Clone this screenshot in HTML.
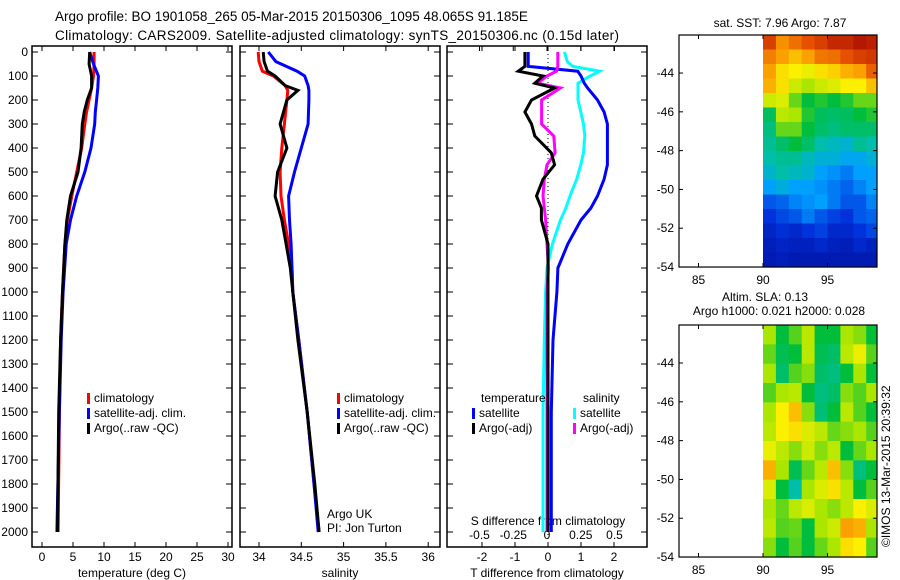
<!DOCTYPE html>
<html><head><meta charset="utf-8"><style>
body{margin:0;background:#fff}
svg{display:block;font-family:"Liberation Sans",sans-serif;font-size:12px}
</style></head><body>
<svg id="c" width="900" height="580" xmlns="http://www.w3.org/2000/svg">
<text x="55" y="21" font-size="13.5">Argo profile: BO 1901058_265 05-Mar-2015 20150306_1095 48.065S 91.185E</text>
<text x="55" y="40" font-size="13.5" textLength="564" lengthAdjust="spacing">Climatology: CARS2009. Satellite-adjusted climatology: synTS_20150306.nc (0.15d later)</text>
<g id="g"></g>
</svg>
<script>
// depth levels (m)
const depthT=[0,50,100,150,200,250,300,400,500,600,700,800,1000,1200,1500,2000];
const tempClim=[8.4,8.4,8.3,8.0,7.6,7.2,6.9,6.4,5.6,4.8,4.1,3.7,3.3,3.0,2.8,2.6];
const tempSat=[7.7,8.3,9.1,9.0,8.8,8.6,8.5,7.9,6.9,5.6,4.6,3.9,3.4,3.1,2.8,2.4];
const tempArgo=[7.7,7.6,8.0,8.0,7.3,6.8,6.5,6.3,5.8,4.6,4.0,3.7,3.3,3.0,2.7,2.5];
const depthS=[0,40,80,100,140,160,200,300,400,500,600,700,800,900,1000,1200,1500,1800,2000];
const salClim=[33.99,34.0,34.04,34.17,34.31,34.34,34.33,34.3,34.27,34.25,34.26,34.3,34.35,34.39,34.4,34.47,34.57,34.65,34.71];
const salSat=[34.11,34.2,34.45,34.54,34.58,34.59,34.59,34.58,34.5,34.42,34.35,34.36,34.38,34.39,34.4,34.47,34.57,34.65,34.7];
const salArgo=[34.05,34.06,34.1,34.19,34.31,34.46,34.33,34.25,34.33,34.22,34.19,34.27,34.32,34.37,34.4,34.46,34.57,34.66,34.71];
const depthD=[0,40,60,80,100,130,150,200,250,300,350,420,470,530,600,650,700,800,900,1000,1200,1500,2000];
const tDiffSat=[-0.6,-0.6,-0.6,0.9,1.0,1.1,1.2,1.5,1.7,1.8,1.8,1.8,1.8,1.7,1.5,1.3,1.0,0.6,0.3,0.27,0.15,0.1,0.1];
const tDiffArgo=[-0.7,-0.7,-0.7,-0.9,-0.15,-0.4,0.2,-0.5,-0.7,-0.5,-0.4,0.1,0.2,-0.15,-0.35,-0.2,-0.2,0,0,0,0,0,0];
const sDiffSat=[0.13,0.15,0.19,0.39,0.32,0.23,0.23,0.23,0.25,0.27,0.28,0.27,0.25,0.22,0.17,0.14,0.1,0.04,0.0,-0.01,-0.02,-0.03,-0.03];
const sDiffArgo=[0.08,0.08,0.08,0.07,0.0,-0.07,0.1,-0.04,-0.04,-0.04,0.05,0.06,0.0,-0.02,-0.03,-0.02,-0.01,0.0,0.01,0.0,0.0,0.0,0.0];
const depthTicks=[0,100,200,300,400,500,600,700,800,900,1000,1100,1200,1300,1400,1500,1600,1700,1800,1900,2000];
const tempTicks=[0,5,10,15,20,25,30];
const salTicks=[34,34.5,35,35.5,36];
const tdTicks=[-2,-1,0,1,2];
const sdTicks=[-0.5,-0.25,0,0.25,0.5];
const sdTickLabels=["-0.5","-0.25","0","0.25","0.5"];
const lonTicks=[85,90,95];
const latTicks=[-44,-46,-48,-50,-52,-54];
// satellite SST map values (rows top->bottom, cols 90..99E), normalised 0..1
const sstGrid=[
[.92,.82,.86,.9,.92,.95,.95,.97,.96],
[.84,.8,.76,.8,.85,.86,.9,.92,.93],
[.8,.72,.7,.68,.72,.74,.78,.8,.88],
[.78,.72,.64,.6,.64,.66,.7,.7,.76],
[.64,.66,.56,.5,.52,.5,.52,.56,.56],
[.47,.62,.6,.52,.47,.46,.47,.5,.52],
[.44,.56,.56,.5,.46,.44,.46,.46,.46],
[.42,.46,.5,.46,.4,.38,.36,.42,.4],
[.4,.42,.42,.38,.35,.35,.32,.32,.35],
[.36,.4,.38,.36,.3,.28,.25,.3,.3],
[.3,.34,.3,.3,.28,.25,.22,.26,.3],
[.2,.22,.26,.28,.3,.25,.2,.2,.26],
[.15,.18,.2,.25,.2,.17,.15,.2,.22],
[.11,.14,.12,.15,.17,.12,.12,.15,.18],
[.09,.11,.1,.1,.12,.1,.09,.12,.1],
[.08,.09,.08,.08,.08,.08,.08,.08,.08]];
// altimetry SLA map values
const slaGrid=[
[.6,.5,.55,.62,.5,.5,.6,.58,.5],
[.56,.48,.5,.62,.48,.46,.62,.68,.55],
[.6,.46,.55,.58,.46,.44,.5,.6,.5],
[.55,.6,.62,.5,.44,.46,.58,.55,.6],
[.6,.7,.76,.58,.45,.5,.62,.55,.5],
[.62,.7,.72,.66,.62,.56,.58,.6,.55],
[.68,.62,.58,.64,.58,.62,.5,.56,.6],
[.78,.6,.48,.56,.62,.76,.58,.44,.5],
[.66,.5,.4,.6,.66,.72,.62,.5,.55],
[.6,.56,.62,.66,.6,.58,.62,.7,.66],
[.62,.55,.56,.5,.6,.64,.8,.78,.6],
[.58,.5,.55,.5,.56,.6,.72,.7,.55]];
const NS='http://www.w3.org/2000/svg';
const G=document.getElementById('g');
function mk(tag,at,parent){const e=document.createElementNS(NS,tag);for(const k in at)e.setAttribute(k,at[k]);(parent||G).appendChild(e);return e;}
function txt(x,y,s,anchor,parent){const t=mk('text',{x:x,y:y,'text-anchor':anchor||'start'},parent);t.textContent=s;return t;}
const yD=d=>52+d*0.24;
const PT=46,PB=547;
const panels=[{x0:32,x1:232},{x0:240,x1:440},{x0:447,x1:647}];
panels.forEach((p,i)=>{const r=mk('rect',{x:p.x0,y:PT,width:p.x1-p.x0,height:PB-PT,fill:'none',stroke:'#000','stroke-width':1.5});

});
depthTicks.forEach(d=>{const y=yD(d);mk('line',{x1:32,x2:38,y1:y,y2:y,stroke:'#000'});mk('line',{x1:226,x2:232,y1:y,y2:y,stroke:'#000'});
mk('line',{x1:240,x2:246,y1:y,y2:y,stroke:'#000'});mk('line',{x1:434,x2:440,y1:y,y2:y,stroke:'#000'});
mk('line',{x1:447,x2:453,y1:y,y2:y,stroke:'#000'});mk('line',{x1:641,x2:647,y1:y,y2:y,stroke:'#000'});
const t=txt(28,y+4,String(d),'end');});
const xT=v=>42+v*6.2, xS=v=>259+(v-34)*84.6, xTd=v=>548+v*33, xSd=v=>547+v*135;
function xaxis(ticks,f,labels,ly,top){ticks.forEach((v,i)=>{const x=f(v);mk('line',{x1:x,x2:x,y1:PB,y2:PB-5,stroke:'#000'});if(top)mk('line',{x1:x,x2:x,y1:PT,y2:PT+5,stroke:'#000'});
const t=txt(x,ly,labels?labels[i]:String(v),'middle');});}
xaxis(tempTicks,xT,null,561,true);xaxis(salTicks,xS,null,561,true);xaxis(tdTicks,xTd,null,561,true);
sdTicks.forEach((v,i)=>{const x=xSd(v);mk('line',{x1:x,x2:x,y1:PT,y2:PT+5,stroke:'#000'});const t=txt(x,539,sdTickLabels[i],'middle');
});
let t;
t=txt(132,577,'temperature (deg C)','middle');
t=txt(340,577,'salinity','middle');
t=txt(547,577,'T difference from climatology','middle');
t=txt(548,525,'S difference from climatology','middle');
mk('line',{x1:548,x2:548,y1:PT,y2:PB,stroke:'#000','stroke-dasharray':'1,3'});
function line(depths,vals,f,col,name){const pts=depths.map((d,i)=>f(vals[i]).toFixed(1)+','+yD(d).toFixed(1)).join(' ');
const p=mk('polyline',{points:pts,fill:'none',stroke:col,'stroke-width':3,'stroke-linejoin':'miter'});
}
line(depthT,tempClim,xT,'#ff0000','temp-climatology-line');
line(depthT,tempSat,xT,'#0000ff','temp-satellite-line');
line(depthT,tempArgo,xT,'#000000','temp-argo-line');
line(depthS,salClim,xS,'#ff0000','sal-climatology-line');
line(depthS,salSat,xS,'#0000ff','sal-satellite-line');
line(depthS,salArgo,xS,'#000000','sal-argo-line');
line(depthD,sDiffSat,xSd,'#00ffff','s-diff-satellite-line');
line(depthD,tDiffSat,xTd,'#0000ff','t-diff-satellite-line');
line(depthD,sDiffArgo,xSd,'#ff00ff','s-diff-argo-line');
line(depthD,tDiffArgo,xTd,'#000000','t-diff-argo-line');
function leg(x,y,col,s,name){const r=mk('rect',{x:x,y:y-9,width:3,height:11,fill:col});
const tt=txt(x+7,y,s);}
[[87,'#ff0000','climatology'],[87,'#0000ff','satellite-adj. clim.'],[87,'#000','Argo(..raw -QC)']].forEach((e,i)=>leg(e[0],402+i*15,e[1],e[2],'legend-entry-temp'));
[[337,'#ff0000','climatology'],[337,'#0000ff','satellite-adj. clim.'],[337,'#000','Argo(..raw -QC)']].forEach((e,i)=>leg(e[0],402+i*15,e[1],e[2],'legend-entry-sal'));
t=txt(481,402,'temperature');
t=txt(583,402,'salinity');
leg(472,417,'#0000ff','satellite','legend-entry-t-sat');leg(472,432,'#000','Argo(-adj)','legend-entry-t-argo');
leg(573,417,'#00ffff','satellite','legend-entry-s-sat');leg(573,432,'#ff00ff','Argo(-adj)','legend-entry-s-argo');
t=txt(327,518,'Argo UK');
t=txt(327,532,'PI: Jon Turton');
const stops=[[0,[0,0,130]],[.15,[0,50,220]],[.3,[0,160,255]],[.4,[0,190,170]],[.5,[0,190,60]],[.6,[170,230,0]],[.7,[250,240,0]],[.8,[250,160,0]],[.9,[230,80,0]],[1,[160,0,0]]];
function cmap(v){for(let i=1;i<stops.length;i++){if(v<=stops[i][0]){const a=stops[i-1],b=stops[i],f=(v-a[0])/(b[0]-a[0]);
return 'rgb('+a[1].map((c,k)=>Math.round(c+(b[1][k]-c)*f)).join(',')+')';}}return 'rgb(160,0,0)';}
const xLon=l=>763+(l-90)*12.9;
function map(top,grid,name,latTop){const yLat=la=>top+(latTop-la)*19.4;const latBot=-54;
const nr=grid.length,dl=(latTop-latBot)/nr;
grid.forEach((row,i)=>row.forEach((v,j)=>{const x0=xLon(90+j),x1=Math.min(xLon(91+j),877),y0=yLat(latTop-i*dl),y1=yLat(latTop-(i+1)*dl);
const c=mk('rect',{x:x0,y:y0,width:x1-x0+0.5,height:y1-y0+0.5,fill:cmap(v)});}));
const r=mk('rect',{x:679,y:top,width:198,height:yLat(-54)-top,fill:'none',stroke:'#000','stroke-width':1.2});
const bot=yLat(-54);
lonTicks.forEach(l=>{const x=xLon(l);mk('line',{x1:x,x2:x,y1:bot,y2:bot-4,stroke:'#000'});mk('line',{x1:x,x2:x,y1:top,y2:top+4,stroke:'#000'});
const tt=txt(x,bot+17,String(l),'middle');});
latTicks.forEach(la=>{const y=yLat(la);mk('line',{x1:679,x2:683,y1:y,y2:y,stroke:'#000'});mk('line',{x1:873,x2:877,y1:y,y2:y,stroke:'#000'});
const tt=txt(674,y+4,String(la),'end');});}
map(35,sstGrid,'sst-map',-42.04);
map(325,slaGrid,'sla-map',-42.04);
t=txt(780,27,'sat. SST: 7.96 Argo: 7.87','middle');
t=txt(765,301,'Altim. SLA: 0.13','middle');
t=txt(779,315,'Argo h1000: 0.021 h2000: 0.028','middle');
t=txt(0,0,'©IMOS 13-Mar-2015 20:39:32');t.setAttribute('transform','translate(890,547) rotate(-90)');

</script>
</body></html>
